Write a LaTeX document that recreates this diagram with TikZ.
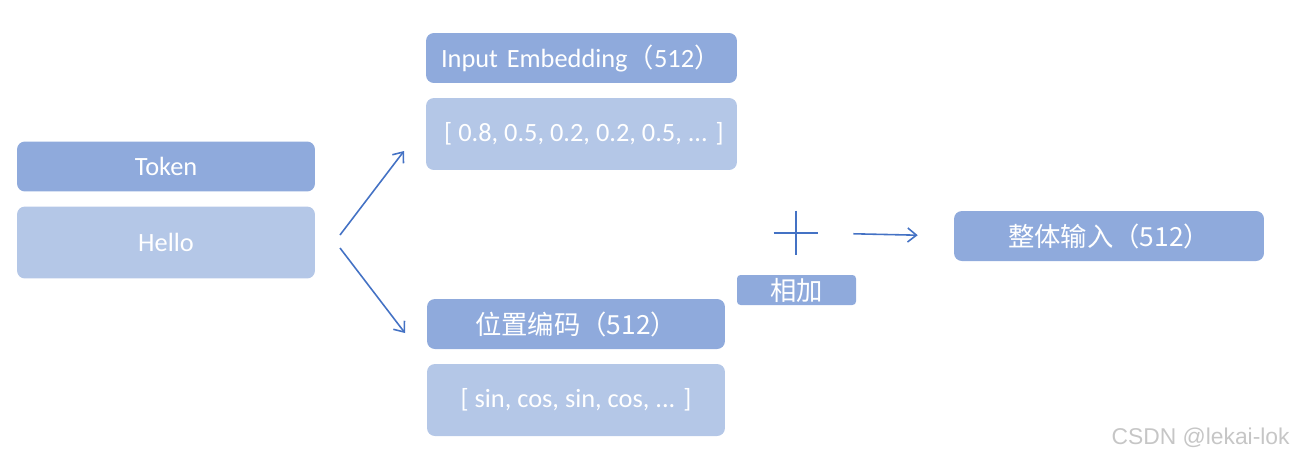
\documentclass[tikz,border=0pt]{standalone}
\usepackage{fontspec}
\setmainfont{Carlito}
\newfontfamily\cjk{Noto Sans CJK SC}
\newfontfamily\wmark{Liberation Sans}
\usepackage{tikz}
\usetikzlibrary{positioning,calc,arrows.meta}
\definecolor{hdrblue}{HTML}{8FAADC}
\definecolor{valblue}{HTML}{B4C7E7}
\definecolor{arrblue}{HTML}{4472C4}
\tikzset{hdr/.style={rounded corners=4.5pt, fill=hdrblue, text=white, inner sep=0pt, minimum height=1cm, font=\fontsize{15}{17}\selectfont}}
\tikzset{val/.style={hdr, fill=valblue, minimum height=1.44cm}}
\tikzset{arr/.style={draw=arrblue, line width=0.9pt, -{Straight Barb[length=5pt,width=8pt]}}}

\begin{document}
\begin{tikzpicture}[x=0.02cm, y=-0.02cm]
                \useasboundingbox (0,0) rectangle (1294,460);
                \node[hdr, minimum width=5.96cm] (token) at (166,166.5) {Token};
                \node[val, minimum width=5.96cm] (hello) at (166,242.5) {Hello};
                %
                \node[hdr, minimum width=6.22cm, text width=5.62cm, align=left] (emb) at (581.5,58) {Input Embedding{\cjk （}512{\cjk ）}};
                \node[val, minimum width=6.22cm] (embval) at (581.5,134) {\hspace*{0.1cm}[ 0.8, 0.5, 0.2, 0.2, 0.5, ... ]};
                %
                \node[hdr, minimum width=5.96cm, font=\cjk\fontsize{15}{17}\selectfont] (pos) at (576,324) {位置编码（512）};
                \node[val, minimum width=5.96cm] (posval) at (576,400) {[ sin, cos, sin, cos, ... ]};
                %
                \node[hdr, minimum width=2.38cm, minimum height=0.6cm, font=\cjk\fontsize{15}{16}\selectfont, rounded corners=2pt] (add) at (796.5,290) {相加};
                \node[minimum size=0.88cm, inner sep=0pt] (plus) at (796,233) {};
                \draw[arrblue, line width=0.9pt] (plus.north) -- (plus.south) (plus.west) -- (plus.east);
                %
                \node[hdr, minimum width=6.2cm, font=\cjk\fontsize{15}{17}\selectfont] (total) at (1109,236) {整体输入（512）};
                %
                \coordinate (hup) at (340,235);
                \coordinate (hdn) at (340,248);
                \coordinate (eup) at (404,151);
                \coordinate (edn) at (405,333);
                \draw[arr] (hup) -- (eup);
                \draw[arr] (hdn) -- (edn);
                \draw[arr, shorten <=0.7cm, shorten >=0.72cm] (plus.east) -- (total.west);
                %
                \node[anchor=east, text=gray!45, font=\wmark\fontsize{13}{15}\selectfont, inner sep=0pt] (mark) at (1290,438) {CSDN @lekai-lok};
            \end{tikzpicture}
\end{document}
